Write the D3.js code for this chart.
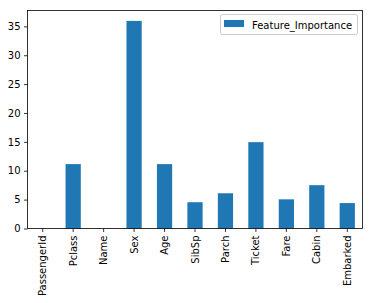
<!DOCTYPE html>
<html><head><meta charset="utf-8">
<script src="https://cdn.jsdelivr.net/npm/d3@7"></script>
<style>body{margin:0;background:#fff}svg{display:block}text{font-family:"DejaVu Sans",sans-serif;font-size:10px;fill:#000}</style>
</head><body>
<script>
const categories = ["PassengerId","Pclass","Name","Sex","Age","SibSp","Parch","Ticket","Fare","Cabin","Embarked"];
const values = [0, 11.15, 0, 35.95, 11.15, 4.55, 6.1, 14.95, 5.05, 7.5, 4.4];
const yTicks = [0,5,10,15,20,25,30,35];
const seriesName = "Feature_Importance";

const W=372,H=303;
const m={left:27.5,top:10.5,right:362.5,bottom:228.5};
const svg=d3.select("body").append("svg").attr("width",W).attr("height",H);
const x=d3.scaleBand().domain(categories).range([m.left,m.right]).paddingInner(0.5).paddingOuter(0.25);
const y=d3.scaleLinear().domain([0,d3.max(values)*1.05]).range([m.bottom,m.top]);

svg.append("g").selectAll("rect").data(values).join("rect")
  .attr("x",(d,i)=>x(categories[i])).attr("width",x.bandwidth())
  .attr("y",d=>y(d)).attr("height",d=>y(0)-y(d)).attr("fill","#1f77b4");

const ya=svg.append("g").attr("transform",`translate(${m.left},0)`)
  .call(d3.axisLeft(y).tickValues(yTicks).tickSize(3.5).tickPadding(3.5));
ya.select(".domain").remove();
ya.selectAll("line").attr("stroke","#000").attr("stroke-width",0.8);
ya.selectAll("text").style("font-size","10px");

const xa=svg.append("g").attr("transform",`translate(0,${m.bottom})`)
  .call(d3.axisBottom(x).tickSize(3.5).tickPadding(3.5));
xa.select(".domain").remove();
xa.selectAll("line").attr("stroke","#000").attr("stroke-width",0.8);
xa.selectAll("text").attr("transform","rotate(-90)").attr("text-anchor","end")
  .attr("x",-7).attr("y",0).attr("dy","0.35em").style("font-size","10px");

svg.append("rect").attr("x",m.left).attr("y",m.top).attr("width",m.right-m.left).attr("height",m.bottom-m.top)
  .attr("fill","none").attr("stroke","#000").attr("stroke-width",0.8);

const lg=svg.append("g");
lg.append("rect").attr("x",220.5).attr("y",14.5).attr("width",137).attr("height",20).attr("rx",2)
  .attr("fill","#fff").attr("fill-opacity",0.8).attr("stroke","#ccc").attr("stroke-width",1);
lg.append("rect").attr("x",224).attr("y",20).attr("width",20).attr("height",7).attr("fill","#1f77b4");
lg.append("text").attr("x",252).attr("y",28.5).text(seriesName);
</script>
</body></html>
